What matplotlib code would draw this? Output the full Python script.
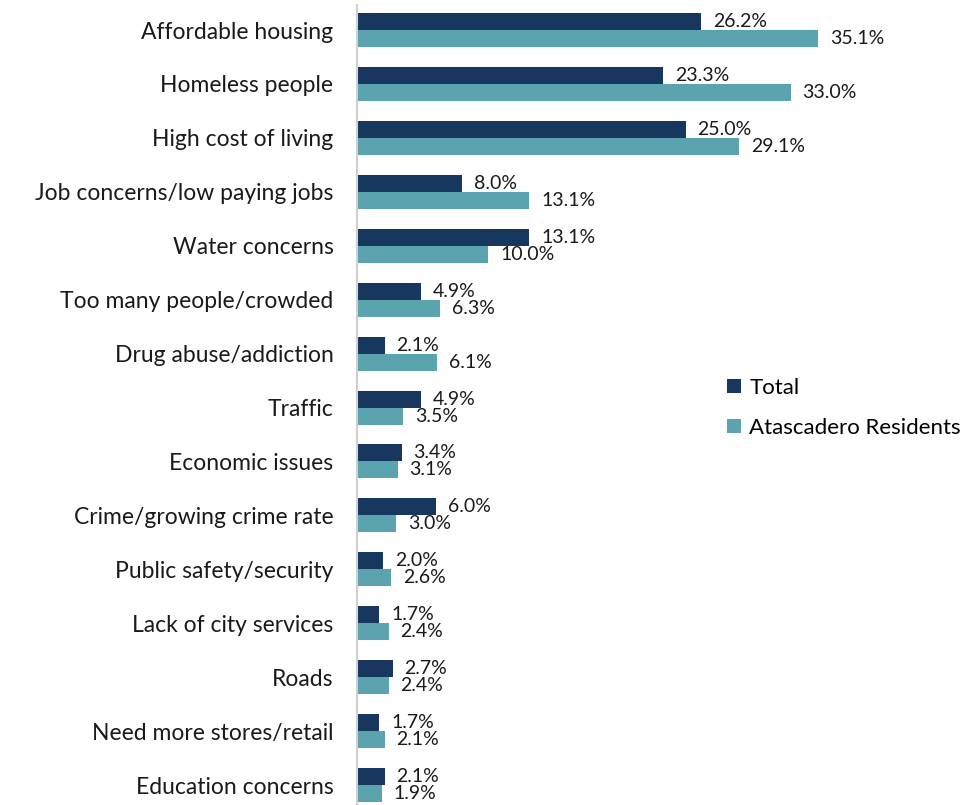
import numpy as np
import matplotlib.pyplot as plt

plt.rcParams['font.family'] = ['Lato', 'DejaVu Sans']

categories = [
    "Affordable housing", "Homeless people", "High cost of living",
    "Job concerns/low paying jobs", "Water concerns", "Too many people/crowded",
    "Drug abuse/addiction", "Traffic", "Economic issues", "Crime/growing crime rate",
    "Public safety/security", "Lack of city services", "Roads",
    "Need more stores/retail", "Education concerns",
]
total = [26.2, 23.3, 25.0, 8.0, 13.1, 4.9, 2.1, 4.9, 3.4, 6.0, 2.0, 1.7, 2.7, 1.7, 2.1]
residents = [35.1, 33.0, 29.1, 13.1, 10.0, 6.3, 6.1, 3.5, 3.1, 3.0, 2.6, 2.4, 2.4, 2.1, 1.9]

navy = '#17375E'
teal = '#5BA3AE'

fig = plt.figure(figsize=(9.76, 8.05), dpi=100)
ax = fig.add_axes([0.3658, 0, 0.6342, 0.9938])

y = np.arange(len(categories))
h = 0.315
b1 = ax.barh(y - h / 2, total, height=h, color=navy, label='Total')
b2 = ax.barh(y + h / 2, residents, height=h, color=teal, label='Atascadero Residents')

# value labels just right of each bar
for bars, vals in ((b1, total), (b2, residents)):
    for rect, v in zip(bars, vals):
        ax.text(v + 0.9, rect.get_y() + rect.get_height() / 2, f'{v:.1f}%',
                va='center', ha='left', fontsize=14, color='#1a1a1a')

ax.set_xlim(0, 47.1)
ax.set_ylim(14.37, -0.464)
ax.set_yticks(y)
ax.set_yticklabels(categories, fontsize=16.5, color='#1a1a1a')
ax.tick_params(axis='y', length=0, pad=17)
ax.set_xticks([])
for s in ['top', 'right', 'bottom']:
    ax.spines[s].set_visible(False)
ax.spines['left'].set_color('#d0d0d0')
ax.spines['left'].set_linewidth(1.5)

ax.legend(loc='center left', bbox_to_anchor=(0.598, 0.496), frameon=False,
          fontsize=16, handlelength=0.6, handleheight=0.6, handletextpad=0.4,
          labelspacing=0.9, borderpad=0, borderaxespad=0)

fig.savefig('out.png', dpi=100)
